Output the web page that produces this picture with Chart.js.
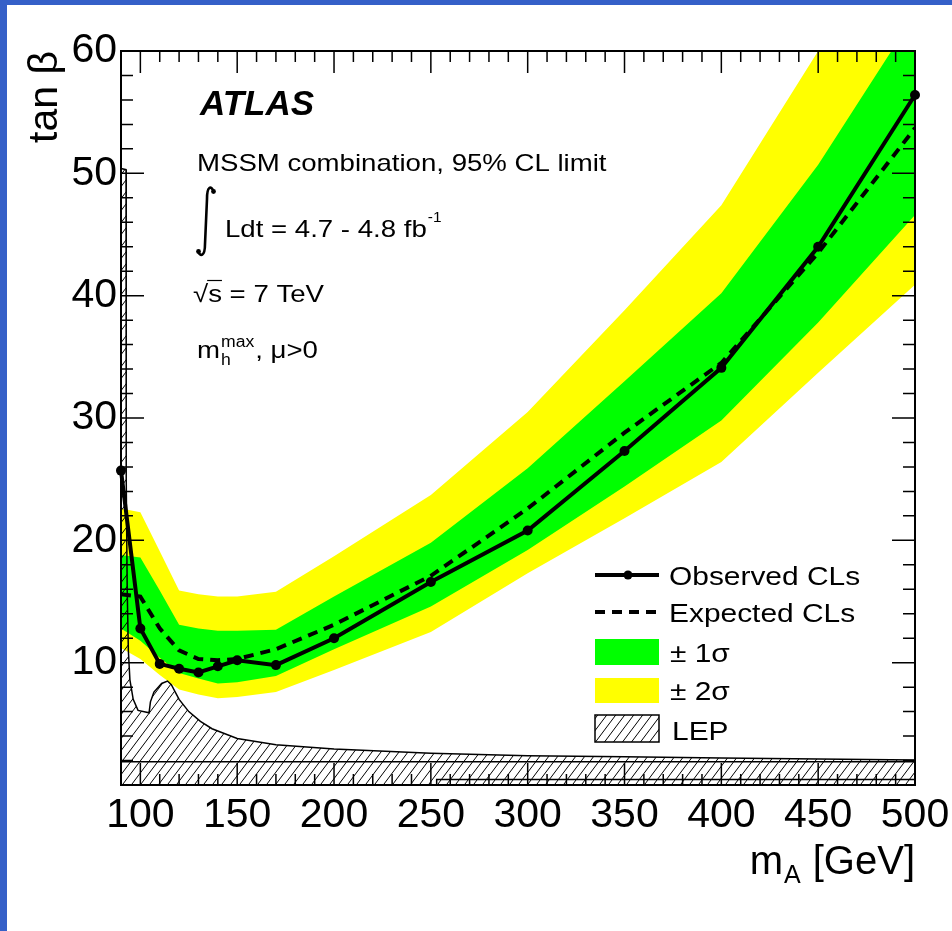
<!DOCTYPE html>
<html>
<head>
<meta charset="utf-8">
<script src="https://cdn.jsdelivr.net/npm/chart.js@4.4.1/dist/chart.umd.min.js"></script>
<style>
  html, body { margin: 0; padding: 0; background: #fff; }
  #wrap { position: relative; width: 952px; height: 931px; }
  .edge { position: absolute; background: #3560c8; }
</style>
</head>
<body>
<div id="wrap">
  <canvas id="limitChart" width="952" height="931"></canvas>
  <div class="edge" style="left:0;top:0;width:952px;height:5px"></div>
  <div class="edge" style="left:0;top:0;width:7px;height:931px"></div>
</div>
<script>
const massPoints    = [90, 100, 110, 120, 130, 140, 150, 170, 200, 250, 300, 350, 400, 450, 500];
const observedLimit = [25.7, 12.8, 9.9, 9.5, 9.2, 9.7, 10.2, 9.8, 12.0, 16.6, 20.8, 27.3, 34.1, 44.0, 56.4];
const expectedLimit = [15.6, 15.4, 12.8, 11.0, 10.3, 10.2, 10.3, 11.1, 13.1, 17.1, 22.6, 28.8, 34.5, 43.5, 53.7];
const sigma1Up      = [18.8, 18.6, 15.9, 13.1, 12.8, 12.6, 12.6, 12.7, 15.4, 19.8, 25.9, 33.0, 40.2, 50.7, 63.0];
const sigma1Down    = [12.8, 11.8, 10.4, 9.15, 8.7, 8.3, 8.4, 8.9, 11.1, 14.6, 19.2, 24.4, 29.8, 37.8, 46.6];
const sigma2Up      = [22.6, 22.3, 19.1, 15.9, 15.6, 15.4, 15.4, 15.8, 18.7, 23.7, 30.5, 38.8, 47.4, 60.0, 72.0];
const sigma2Down    = [11.2, 10.3, 9.0, 7.8, 7.4, 7.1, 7.2, 7.6, 9.4, 12.5, 17.3, 21.8, 26.4, 33.7, 40.9];

// LEP excluded region boundary
const lepMass = [90, 92.6, 92.7, 93.2, 93.8, 94.6, 96.3, 98.8, 104.5, 105.2, 107, 111, 114, 116, 120, 125, 131, 137, 150, 170, 200, 250, 300, 350, 400, 500];
const lepTanb = [50.4, 50.3, 25, 16, 11, 8.6, 7.0, 6.1, 5.9, 6.8, 7.6, 8.3, 8.5, 8.2, 7.0, 6.0, 5.2, 4.6, 3.8, 3.3, 2.95, 2.6, 2.4, 2.3, 2.2, 2.05];
const lepLowMass = [90, 500];
const lepLowTanb = [1.9, 1.9];
const lepStepMass = [253, 253, 500];
const lepStepTanb = [0, 0.45, 0.45];

const xTickLabels = [100, 150, 200, 250, 300, 350, 400, 450, 500];
const yTickLabels = [10, 20, 30, 40, 50, 60];

const FONT = 'Liberation Sans, Arial, sans-serif';

const canvas = document.getElementById('limitChart');
const ctx = canvas.getContext('2d');

// diagonal hatch like ROOT fill style 3004
function makeHatch(c2d) {
    const a = 9, b = 12;
    const tile = document.createElement('canvas');
    tile.width = a; tile.height = b;
    const g = tile.getContext('2d');
    g.strokeStyle = '#000';
    g.lineWidth = 1;
    for (const off of [-a, 0, a]) {
        g.beginPath();
        g.moveTo(off, b);
        g.lineTo(off + a, 0);
        g.stroke();
    }
    return c2d.createPattern(tile, 'repeat');
}
const hatch = makeHatch(ctx);

const xy = (xs, ys) => xs.map((x, i) => ({ x: x, y: ys[i] }));
const noLine = 'rgba(0,0,0,0)';

// stretched text helper (original text is a bit wider than Arial)
function sText(c, str, x, y, size, sx, style) {
    c.save();
    c.font = (style || '') + ' ' + size + 'px ' + FONT;
    c.translate(x, y);
    c.scale(sx, 1);
    c.textBaseline = 'alphabetic';
    c.textAlign = 'left';
    c.fillText(str, 0, 0);
    const w = c.measureText(str).width * sx;
    c.restore();
    return w;
}

const atlasDecor = {
    id: 'atlasDecor',
    afterDraw(chart) {
        const c = chart.ctx;
        const area = chart.chartArea;
        const xs = chart.scales.x, ys = chart.scales.y;
        c.save();
        c.strokeStyle = '#000';
        c.fillStyle = '#000';

        // frame
        c.lineWidth = 2;
        c.strokeRect(area.left, area.top, area.right - area.left, area.bottom - area.top);

        // inward ticks on all four sides
        c.lineWidth = 1.5;
        c.beginPath();
        for (let m = 90; m <= 500; m += 10) {
            const px = xs.getPixelForValue(m);
            const len = (m % 50 === 0) ? 22 : 11;
            c.moveTo(px, area.bottom); c.lineTo(px, area.bottom - len);
            c.moveTo(px, area.top); c.lineTo(px, area.top + len);
        }
        for (let v = 0; v <= 60; v += 2) {
            const py = ys.getPixelForValue(v);
            const len = (v % 10 === 0) ? 23 : 12;
            c.moveTo(area.left, py); c.lineTo(area.left + len, py);
            c.moveTo(area.right, py); c.lineTo(area.right - len, py);
        }
        c.stroke();

        // axis titles
        c.save();
        c.font = '41px ' + FONT;
        c.translate(57, 143);
        c.rotate(-Math.PI / 2);
        c.textAlign = 'left';
        c.textBaseline = 'alphabetic';
        c.fillText('tan \u03B2', 0, 0);
        c.restore();

        c.font = '40px ' + FONT;
        const wGeV = c.measureText(' [GeV]').width;
        c.font = '25px ' + FONT;
        const wA = c.measureText('A').width;
        c.font = '40px ' + FONT;
        const wm = c.measureText('m').width;
        let tx = area.right - wGeV - wA - wm - 2;
        c.textAlign = 'left';
        c.fillText('m', tx, 874);
        c.font = '25px ' + FONT;
        c.fillText('A', tx + wm + 1, 883);
        c.font = '40px ' + FONT;
        c.fillText(' [GeV]', tx + wm + wA + 2, 874);

        // labels inside the frame
        c.font = 'italic bold 35px ' + FONT;
        c.fillText('ATLAS', 200, 115);
        sText(c, 'MSSM combination, 95% CL limit', 197, 171, 24, 1.15);

        // integral sign
        c.lineWidth = 2.6;
        c.beginPath();
        c.moveTo(214, 192);
        c.bezierCurveTo(211, 185, 207, 186, 207, 199);
        c.lineTo(205, 244);
        c.bezierCurveTo(205, 257, 200, 257, 198, 251);
        c.stroke();
        c.beginPath(); c.arc(213.5, 191.5, 2.4, 0, Math.PI * 2); c.fill();
        c.beginPath(); c.arc(198.5, 251.5, 2.4, 0, Math.PI * 2); c.fill();
        const wL = sText(c, 'Ldt = 4.7 - 4.8 fb', 225, 237, 24, 1.15);
        sText(c, '-1', 225 + wL + 1, 222, 14, 1.1);

        // sqrt(s)
        const wRoot = sText(c, '\u221A', 193, 302, 24, 1.15);
        const wS = sText(c, 's', 193 + wRoot, 302, 24, 1.15);
        sText(c, ' = 7 TeV', 193 + wRoot + wS, 302, 24, 1.15);
        c.lineWidth = 1.2;
        c.beginPath();
        c.moveTo(193 + wRoot - 1, 280.5);
        c.lineTo(193 + wRoot + wS, 280.5);
        c.stroke();

        // m_h^max, mu>0
        const wmm = sText(c, 'm', 197, 358, 24, 1.15);
        const wmax = sText(c, 'max', 197 + wmm + 1, 347, 16, 1.1);
        sText(c, 'h', 197 + wmm + 1, 365, 16, 1.1);
        sText(c, ', \u03BC>0', 197 + wmm + wmax + 2, 358, 24, 1.15);

        // legend
        const lx0 = 595, lx1 = 659, tx0 = 669;
        c.lineWidth = 4;
        c.setLineDash([]);
        c.beginPath(); c.moveTo(lx0, 575); c.lineTo(lx1, 575); c.stroke();
        c.beginPath(); c.arc(628, 575, 4.5, 0, Math.PI * 2); c.fill();
        sText(c, 'Observed CLs', tx0, 585, 26, 1.15);

        c.setLineDash([10, 7]);
        c.beginPath(); c.moveTo(lx0, 612); c.lineTo(lx1 + 2, 612); c.stroke();
        c.setLineDash([]);
        sText(c, 'Expected CLs', tx0, 622, 26, 1.15);

        c.fillStyle = '#00ff00';
        c.fillRect(lx0, 639, lx1 - lx0, 26);
        c.fillStyle = '#000';
        sText(c, '\u00B1 1\u03C3', tx0 + 1, 662, 26, 1.15);

        c.fillStyle = '#ffff00';
        c.fillRect(lx0, 678, lx1 - lx0, 25);
        c.fillStyle = '#000';
        sText(c, '\u00B1 2\u03C3', tx0 + 1, 700, 26, 1.15);

        c.fillStyle = hatch;
        c.fillRect(lx0, 715, lx1 - lx0, 27);
        c.fillStyle = '#000';
        c.lineWidth = 1.5;
        c.strokeRect(lx0, 715, lx1 - lx0, 27);
        sText(c, 'LEP', tx0 + 3, 740, 26, 1.15);

        c.restore();
    }
};

new Chart(ctx, {
    type: 'line',
    data: {
        datasets: [
            { label: '\u00B1 2\u03C3 up', data: xy(massPoints, sigma2Up), borderColor: noLine, borderWidth: 0.01,
              backgroundColor: '#ffff00', fill: 1, pointRadius: 0, order: 6 },
            { label: '\u00B1 2\u03C3 down', data: xy(massPoints, sigma2Down), borderColor: noLine, borderWidth: 0.01,
              fill: false, pointRadius: 0, order: 6 },
            { label: '\u00B1 1\u03C3 up', data: xy(massPoints, sigma1Up), borderColor: noLine, borderWidth: 0.01,
              backgroundColor: '#00ff00', fill: 3, pointRadius: 0, order: 5 },
            { label: '\u00B1 1\u03C3 down', data: xy(massPoints, sigma1Down), borderColor: noLine, borderWidth: 0.01,
              fill: false, pointRadius: 0, order: 5 },
            { label: 'LEP', data: xy(lepMass, lepTanb), borderColor: '#000', borderWidth: 1.5,
              backgroundColor: hatch, fill: 'origin', pointRadius: 0, order: 4 },
            { label: 'LEP low', data: xy(lepLowMass, lepLowTanb), borderColor: '#000', borderWidth: 1.5,
              fill: false, pointRadius: 0, order: 4 },
            { label: 'LEP step', data: xy(lepStepMass, lepStepTanb), borderColor: '#000', borderWidth: 1.5,
              fill: false, pointRadius: 0, order: 4 },
            { label: 'Expected CLs', data: xy(massPoints, expectedLimit), borderColor: '#000', borderWidth: 4,
              borderDash: [10, 7], fill: false, pointRadius: 0, order: 2 },
            { label: 'Observed CLs', data: xy(massPoints, observedLimit), borderColor: '#000', borderWidth: 4,
              fill: false, pointRadius: 5, pointBackgroundColor: '#000', pointBorderWidth: 0,
              order: 1, clip: false }
        ]
    },
    options: {
        responsive: false,
        animation: false,
        devicePixelRatio: 1,
        layout: { padding: { top: 51, right: 37, left: 0, bottom: 0 } },
        elements: { line: { tension: 0 } },
        plugins: { legend: { display: false }, tooltip: { enabled: false } },
        scales: {
            x: {
                type: 'linear', min: 90, max: 500,
                grid: { display: false, drawTicks: false },
                border: { display: false },
                afterBuildTicks: s => { s.ticks = xTickLabels.map(v => ({ value: v })); },
                afterFit: s => { s.height = 146; s.paddingLeft = 0; s.paddingRight = 0; },
                ticks: { font: { family: FONT, size: 41 }, color: '#000', padding: 6,
                         maxRotation: 0, autoSkip: false }
            },
            y: {
                type: 'linear', min: 0, max: 60,
                grid: { display: false, drawTicks: false },
                border: { display: false },
                afterBuildTicks: s => { s.ticks = yTickLabels.map(v => ({ value: v })); },
                afterFit: s => { s.width = 121; s.paddingTop = 0; s.paddingBottom = 0; },
                ticks: { font: { family: FONT, size: 41 }, color: '#000', padding: 4 }
            }
        }
    },
    plugins: [atlasDecor]
});
</script>
</body>
</html>
